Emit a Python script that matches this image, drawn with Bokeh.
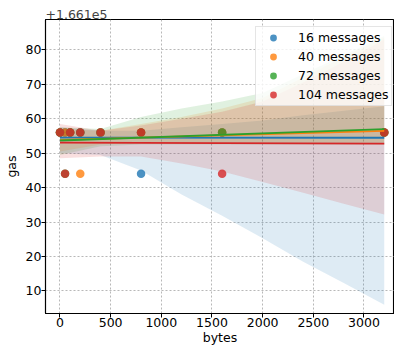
import numpy as np
from bokeh.plotting import figure
from bokeh.models import (FixedTicker, CustomJSTickFormatter, Legend, LegendItem,
                          Range1d)
from bokeh.embed import file_html
from bokeh.resources import INLINE

# ---- data ----
bytes_sizes = [0, 50, 100, 200, 400, 800, 1600, 3200]
series_labels = ["16 messages", "40 messages", "72 messages", "104 messages"]
colors = ["#1f77b4", "#ff7f0e", "#2ca02c", "#d62728"]

gas_16 = [166156, 166156, 166156, 166156, 166156, 166144, 166156, 166156]
gas_40 = [166156, 166156, 166156, 166144, 166156, 166156, 166156, 166156]
gas_72 = [166156, 166144, 166156, 166156, 166156, 166156, 166156, 166156]
gas_104 = [166156, 166144, 166156, 166156, 166156, 166156, 166144, 166156]

# confidence band edges
band_x = [0, 400, 800, 1200, 1600, 2000, 2400, 2800, 3200]
lo_16 = [166150.0, 166149.5, 166145.0, 166138.0, 166131.8, 166125.3, 166118.5, 166112.3, 166106.0]
hi_16 = [166157.5, 166156.5, 166156.5, 166157.5, 166158.5, 166159.5, 166161.0, 166162.3, 166163.6]
lo_40 = [166150.5, 166152.5, 166153.0, 166153.0, 166153.0, 166153.0, 166153.0, 166153.0, 166153.0]
hi_40 = [166157.0, 166156.5, 166158.5, 166160.5, 166163.0, 166166.0, 166172.0, 166178.0, 166183.5]
lo_72 = [166149.5, 166152.0, 166152.5, 166152.5, 166152.5, 166152.5, 166152.5, 166152.5, 166152.5]
hi_72 = [166157.5, 166157.0, 166160.5, 166163.0, 166165.0, 166167.5, 166173.0, 166178.5, 166184.0]
lo_104 = [166148.5, 166149.0, 166149.0, 166147.0, 166144.7, 166141.6, 166138.5, 166135.3, 166132.2]
hi_104 = [166158.5, 166156.5, 166158.0, 166160.0, 166162.0, 166165.0, 166170.5, 166176.5, 166183.0]

x_ticks = [0, 500, 1000, 1500, 2000, 2500, 3000]
y_ticks = [166110, 166120, 166130, 166140, 166150, 166160, 166170, 166180]
y_offset = 166100
offset_text = "+1.661e5"

gas_all = [gas_16, gas_40, gas_72, gas_104]
lo_all = [lo_16, lo_40, lo_72, lo_104]
hi_all = [hi_16, hi_40, hi_72, hi_104]

FONT = "DejaVu Sans"
FS = "12.5px"

p = figure(width=394, height=347, output_backend="svg", toolbar_location=None,
           x_range=Range1d(-143, 3301), y_range=Range1d(166103.46, 166188.8),
           min_border_left=45, min_border_right=0, min_border_top=19, min_border_bottom=0,
           title=offset_text)

p.title.text_font = FONT
p.title.text_font_size = FS
p.title.text_font_style = "normal"
p.title.align = "left"
p.title.standoff = 1
p.title.offset = 0

p.outline_line_color = "black"
p.outline_line_width = 1.1

for ax in (p.xaxis[0], p.yaxis[0]):
    ax.axis_line_color = "black"
    ax.axis_line_width = 1.1
    ax.major_tick_line_color = "black"
    ax.major_tick_out = 4
    ax.major_tick_in = 0
    ax.minor_tick_line_color = None
    ax.major_label_text_font = FONT
    ax.major_label_text_font_size = FS
    ax.major_label_text_color = "black"
    ax.axis_label_text_font = FONT
    ax.axis_label_text_font_size = FS
    ax.axis_label_text_font_style = "normal"
    ax.axis_label_text_color = "black"
    ax.major_label_standoff = 0
    ax.axis_label_standoff = 0

p.yaxis[0].axis_label_standoff = 4

p.xaxis[0].ticker = FixedTicker(ticks=x_ticks)
p.yaxis[0].ticker = FixedTicker(ticks=y_ticks)
p.yaxis[0].formatter = CustomJSTickFormatter(args=dict(off=y_offset),
                                             code="return (tick - off).toFixed(0);")
p.xaxis[0].axis_label = "bytes"
p.yaxis[0].axis_label = "gas"

for g in (p.xgrid[0], p.ygrid[0]):
    g.grid_line_color = "#b0b0b0"
    g.grid_line_dash = "2 2"
    g.grid_line_width = 1
    g.grid_line_alpha = 0.9

items = []
line_specs = []
for label, col, gas, lo, hi in zip(series_labels, colors, gas_all, lo_all, hi_all):
    r = p.scatter(bytes_sizes, gas, size=8.5, color=col, alpha=0.8, line_color=None)
    p.varea(x=band_x, y1=lo, y2=hi, fill_color=col, fill_alpha=0.15)
    items.append(LegendItem(label=label, renderers=[r]))
    slope, icpt = np.polyfit(np.array(bytes_sizes, float), np.array(gas, float), 1)
    xs = np.array([min(bytes_sizes), max(bytes_sizes)], float)
    line_specs.append((xs, slope * xs + icpt, col))

for xs, ys, col in line_specs:
    p.line(xs, ys, line_color=col, line_width=1.8)

legend = Legend(items=items, location=(210, 207))
legend.label_text_font = FONT
legend.label_text_font_size = FS
legend.label_text_color = "black"
legend.background_fill_alpha = 0.8
legend.border_line_color = "#cccccc"
legend.border_line_width = 1
legend.glyph_width = 30
legend.glyph_height = 17
legend.label_standoff = 10
legend.spacing = 2
legend.padding = 2
legend.label_height = 17
p.add_layout(legend, "center")

open("out.html", "w").write(file_html(p, INLINE))
